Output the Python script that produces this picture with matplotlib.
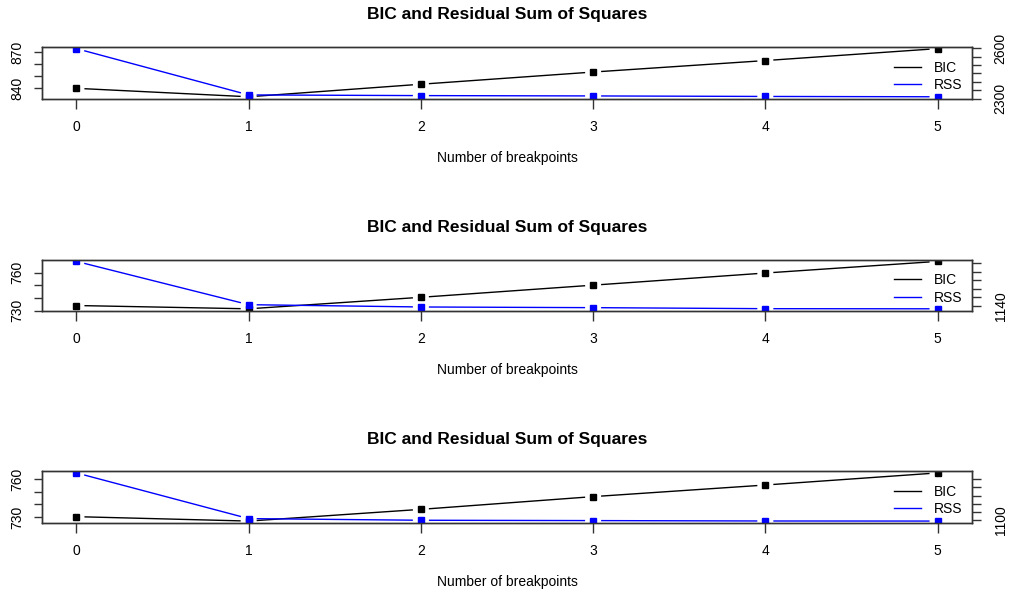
import numpy as np
import matplotlib
matplotlib.use("Agg")
import matplotlib.pyplot as plt
from matplotlib.lines import Line2D

plt.rcParams['font.family'] = ['Liberation Sans', 'DejaVu Sans']

## values
breaks = [0, 1, 2, 3, 4, 5]

bic_1 = [840.0, 833.0, 843.4, 853.5, 863.0, 872.9]
rss_1 = [2598, 2322, 2318, 2316, 2313, 2311]

bic_2 = [734.0, 731.4, 740.5, 750.1, 759.7, 768.9]
rss_2 = [1244.7, 1143.0, 1137.6, 1136.0, 1133.6, 1133.3]

bic_3 = [730.2, 726.7, 736.0, 746.1, 755.3, 764.9]
rss_3 = [1215.0, 1104.0, 1100.0, 1099.2, 1098.2, 1098.0]

bic_ticks = [[840, 850, 860, 870], [730, 740, 750, 760], [730, 740, 750, 760]]
bic_labels = [["840", "", "", "870"], ["730", "", "", "760"], ["730", "", "", "760"]]
rss_ticks = [[2300, 2350, 2400, 2450, 2500, 2550, 2600],
             [1140, 1160, 1180, 1200, 1220, 1240],
             [1100, 1120, 1140, 1160, 1180, 1200]]
rss_labels = [["2300", "", "", "", "", "", "2600"],
              ["1140", "", "", "", "", ""],
              ["1100", "", "", "", "", ""]]

panels = [(bic_1, rss_1), (bic_2, rss_2), (bic_3, rss_3)]

W, H = 1010, 597
# axes boxes in pixels: left, top, right, bottom
boxes = [(42, 46.7, 972, 98.7), (42, 259.5, 972, 310.7), (42, 471, 972, 523)]

edge = "#333333"


def r_lim(v):
    lo, hi = min(v), max(v)
    pad = 0.04 * (hi - lo)
    return lo - pad, hi + pad


def gapped(ax, x, y, color, gap=8):
    # R type="b": line segments stop short of the points
    pts = ax.transData.transform(np.column_stack([x, y]))
    inv = ax.transData.inverted()
    for p, q in zip(pts[:-1], pts[1:]):
        d = q - p
        L = np.hypot(d[0], d[1])
        if L <= 2 * gap:
            continue
        u = d / L
        a = inv.transform(np.array([p + u * gap, q - u * gap]))
        ax.plot(a[:, 0], a[:, 1], color=color, lw=1, solid_capstyle="butt")
    ax.plot(x, y, ls="none", marker="s", ms=4.8, color=color, mec=color)


fig = plt.figure(figsize=(W / 100, H / 100), dpi=100)

for i, (bic, rss) in enumerate(panels):
    l, t, r, b = boxes[i]
    ax = fig.add_axes([l / W, 1 - b / H, (r - l) / W, (b - t) / H])
    ax.set_xlim(-0.2, 5.2)
    ax.set_ylim(*r_lim(bic))
    gapped(ax, breaks, bic, "black")

    ax.set_xticks(breaks)
    ax.set_xticklabels([str(k) for k in breaks], fontsize=10)
    ax.set_yticks(bic_ticks[i])
    ax.set_yticklabels(bic_labels[i], rotation=90, va="center", fontsize=10)
    ax.tick_params(axis="x", length=7, width=1, color=edge, pad=8)
    ax.tick_params(axis="y", length=6, width=1, color=edge, pad=7)

    ax2 = ax.twinx()
    ax2.set_xlim(-0.2, 5.2)
    ax2.set_ylim(*r_lim(rss))
    gapped(ax2, breaks, rss, "blue")
    ax2.set_yticks(rss_ticks[i])
    ax2.set_yticklabels(rss_labels[i], rotation=90, va="center", fontsize=10)
    ax2.tick_params(axis="y", length=6.5, width=1, color=edge, pad=9)

    for a in (ax, ax2):
        for s in a.spines.values():
            s.set_color(edge)
            s.set_linewidth(1)

    handles = [Line2D([], [], color="black", lw=1), Line2D([], [], color="blue", lw=1)]
    ax2.legend(handles, ["BIC", "RSS"], loc="upper right", bbox_to_anchor=(1.0, 0.92),
               frameon=False, fontsize=10, handlelength=2.0, handletextpad=0.9,
               labelspacing=0.25, borderaxespad=0.3)

    ax.annotate("BIC and Residual Sum of Squares", xy=(0.5, 1), xycoords="axes fraction",
                xytext=(0, 23), textcoords="offset points", ha="center", va="center",
                fontsize=12.5, fontweight="bold")
    ax.annotate("Number of breakpoints", xy=(0.5, 0), xycoords="axes fraction",
                xytext=(0, -42.5), textcoords="offset points", ha="center", va="center",
                fontsize=10)

fig.savefig("out.png", dpi=100)
